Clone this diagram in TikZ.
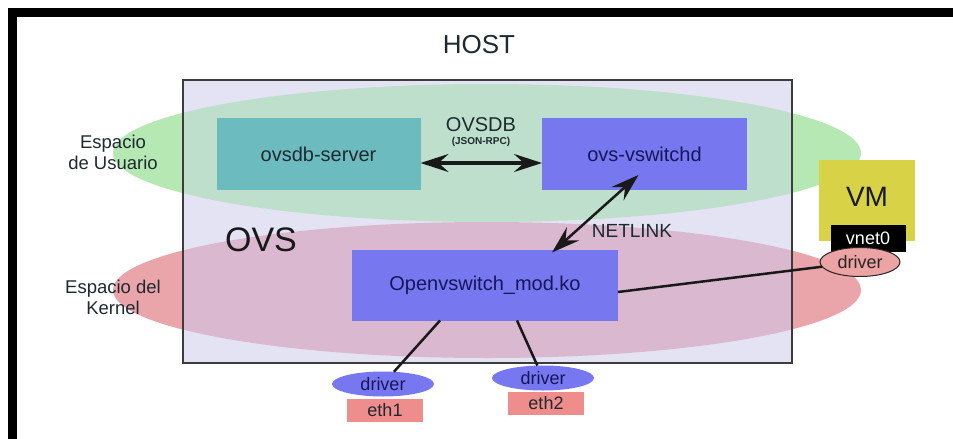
\documentclass[tikz,border=0pt]{standalone}
\usepackage{fontspec}
\setmainfont{Liberation Sans}
\usepackage{tikz}
\usetikzlibrary{shapes.geometric, arrows.meta, calc}
\definecolor{hostbg}{HTML}{E3E3F3}
\definecolor{hostline}{HTML}{3C3C3C}
\definecolor{userout}{HTML}{B5E8B3}
\definecolor{userin}{HTML}{BEDFCC}
\definecolor{kernout}{HTML}{E9A5AA}
\definecolor{kernin}{HTML}{DAB8CF}
\definecolor{dbteal}{HTML}{6CBBBF}
\definecolor{swblue}{HTML}{7777F0}
\definecolor{nicred}{HTML}{EF8C8C}
\definecolor{vmyellow}{HTML}{D8D246}
\definecolor{tapred}{HTML}{EBA3A3}
\definecolor{inktext}{HTML}{1E2A30}
\definecolor{navytext}{HTML}{16165A}

\begin{document}
\begin{tikzpicture}[x=1pt, y=-1pt, >={Stealth[length=28pt, width=18pt, inset=10pt]}, every node/.style={inner sep=0pt, outer sep=0pt}]
    \tikzstyle{zone} = [ellipse, minimum width=748pt]
    \tikzstyle{hostbox} = [rectangle, fill=hostbg, draw=hostline, line width=2pt, minimum width=609pt, minimum height=283pt]
    \tikzstyle{procbox} = [rectangle, minimum width=204pt, minimum height=72pt, font=\fontsize{20}{23}\selectfont]
    \tikzstyle{nicdriver} = [ellipse, fill=swblue, minimum width=102pt, minimum height=25pt, text=navytext, font=\fontsize{18}{20}\selectfont]
    \tikzstyle{nicport} = [rectangle, fill=nicred, minimum width=76pt, minimum height=23pt, text=inktext, font=\fontsize{18}{20}\selectfont]
    \tikzstyle{zonelabel} = [align=center, text=inktext, font=\fontsize{18.5}{21}\selectfont]
    \tikzstyle{link} = [draw, line width=2.5pt, black!90]

    \useasboundingbox (0,0) rectangle (953,439);
    % frame
    \fill[black] (8,8) rectangle (953,17);
    \fill[black] (8,8) rectangle (17,439);

    \node [font=\fontsize{26}{29}\selectfont, text=inktext] (host) at (479,45) {HOST};

    % user / kernel space
    \node [zone, fill=userout, minimum height=138pt] (user) at (487,153) {};
    \node [zone, fill=kernout, minimum height=136pt] (kernel) at (487,290) {};
    \node [hostbox] (ovsbox) at (487.5,221.5) {};
    \begin{scope}
        \clip (ovsbox.north west) rectangle (ovsbox.south east);
        \fill [userin] (user.center) ellipse [x radius=374pt, y radius=69pt];
        \fill [kernin] (kernel.center) ellipse [x radius=374pt, y radius=68pt];
    \end{scope}
    \draw [hostline, line width=2pt] (ovsbox.north west) rectangle (ovsbox.south east);

    \node [zonelabel] (userlbl) at (113,152) {Espacio\\de Usuario};
    \node [zonelabel] (kernlbl) at (113,297) {Espacio del\\Kernel};
    \node [font=\fontsize{34}{38}\selectfont, text=black!90] (ovslbl) at (261,240) {OVS};

    % processes
    \node [procbox, fill=dbteal, text=inktext] (dbserver) at (318.5,154) {ovsdb-server};
    \node [procbox, fill=swblue, minimum width=205pt, text=navytext] (vswitchd) at (644.5,154) {ovs-vswitchd};
    \node [procbox, fill=swblue, minimum width=266pt, minimum height=71pt, text=navytext] (modko) at (485,285) {Openvswitch\_mod.ko};

    \node [font=\fontsize{20}{23}\selectfont, text=inktext] (ovsdb) at (481,125) {OVSDB};
    \node [font=\bfseries\fontsize{10}{11}\selectfont, text=inktext] (jsonrpc) at (481,142) {(JSON-RPC)};
    \node [font=\fontsize{19}{22}\selectfont, text=inktext] (netlink) at (632,231) {NETLINK};

    \path [link, <->, line width=3.5pt] ($(dbserver.east)+(0,9)$) -- ($(vswitchd.west)+(0,9)$);
    \path [link, <->] ($(modko.north)+(67,3)$) -- ($(vswitchd.south)+(-6,-15)$);

    % VM
    \node [rectangle, fill=vmyellow, minimum width=96pt, minimum height=81pt] (vm) at (867,200) {};
    \node [font=\fontsize{28}{31}\selectfont, text=black!90] (vmlbl) at (867,197) {VM};
    \node [rectangle, fill=black, minimum width=75pt, minimum height=27pt, text=white, font=\fontsize{18}{20}\selectfont] (vnet) at (868,238) {vnet0};
    \node [ellipse, fill=tapred, draw=black!85, line width=1pt, minimum width=80pt, minimum height=29pt, text=black!85, font=\fontsize{18}{20}\selectfont] (vmdrv) at (860,262) {driver};

    % physical ports
    \node [nicport] (eth1) at (385,410) {eth1};
    \node [nicdriver] (drv1) at (383,384) {driver};
    \node [nicport] (eth2) at (546,403.5) {eth2};
    \node [nicdriver] (drv2) at (543,378) {driver};

    \path [link] ($(modko.east)+(0,7)$) -- (vmdrv);
    \path [link] ($(modko.south)+(-45,0)$) -- (drv1);
    \path [link] ($(modko.south)+(32,0)$) -- (drv2);
\end{tikzpicture}
\end{document}
